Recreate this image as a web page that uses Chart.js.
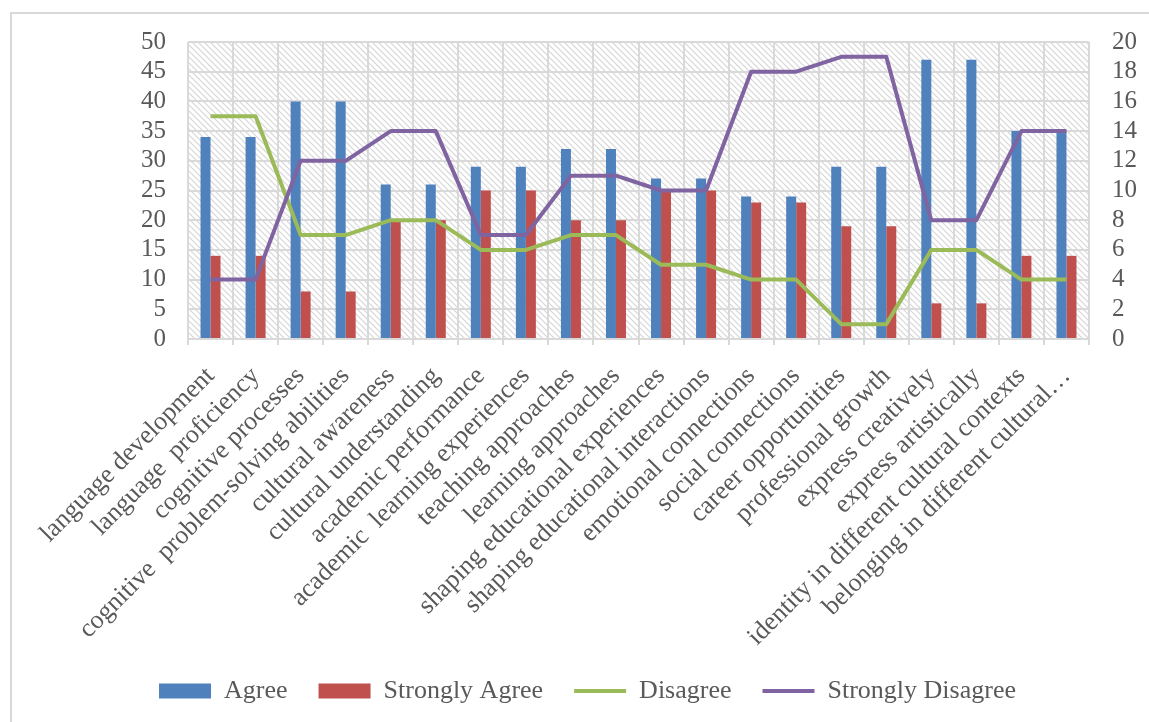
<!DOCTYPE html>
<html lang="en">
<head>
    <meta charset="UTF-8">
    <title>Agreement by Aspect</title>
    <style>
        html, body { margin: 0; padding: 0; background: #fff; }
        #wrap { width: 1149px; height: 722px; position: relative; }
    </style>
</head>
<body>
    <div id="wrap"><canvas id="mixedChart" width="1149" height="722"></canvas></div>

    <script src="https://cdn.jsdelivr.net/npm/chart.js"></script>
    <script>
        // categories and values
        const categories = [
            'language development', 'language  proficiency', 'cognitive processes',
            'cognitive  problem-solving abilities', 'cultural awareness', 'cultural understanding',
            'academic performance', 'academic  learning experiences', 'teaching approaches',
            'learning approaches', 'shaping educational experiences', 'shaping educational interactions',
            'emotional connections', 'social connections', 'career opportunities', 'professional growth',
            'express creatively', 'express artistically', 'identity in different cultural contexts',
            'belonging in different cultural\u2026'
        ];
        const agree = [34, 34, 40, 40, 26, 26, 29, 29, 32, 32, 27, 27, 24, 24, 29, 29, 47, 47, 35, 35];
        const stronglyAgree = [14, 14, 8, 8, 20, 20, 25, 25, 20, 20, 25, 25, 23, 23, 19, 19, 6, 6, 14, 14];
        const disagree = [15, 15, 7, 7, 8, 8, 6, 6, 7, 7, 5, 5, 4, 4, 1, 1, 6, 6, 4, 4];
        const stronglyDisagree = [4, 4, 12, 12, 14, 14, 7, 7, 11, 11, 10, 10, 18, 18, 19, 19, 8, 8, 14, 14];

        const FONT = "'Liberation Serif', serif";
        const TEXT = '#595959';
        const GRID = '#d9d9d9';

        // hatched plot background
        function makeHatch() {
            const c = document.createElement('canvas');
            c.width = 6; c.height = 6;
            const g = c.getContext('2d');
            g.strokeStyle = '#d6d6d6';
            g.lineWidth = 1.2;
            g.beginPath();
            g.moveTo(-1, -1); g.lineTo(7, 7);
            g.moveTo(-1, 5); g.lineTo(1, 7);
            g.moveTo(5, -1); g.lineTo(7, 1);
            g.stroke();
            return g.createPattern(c, 'repeat');
        }

        const backdrop = {
            id: 'backdrop',
            beforeDraw(chart) {
                const ctx = chart.ctx;
                const a = chart.chartArea;
                ctx.save();
                ctx.fillStyle = makeHatch();
                ctx.fillRect(a.left, a.top, a.right - a.left, a.bottom - a.top);
                // outer frame (top and left edges visible)
                ctx.strokeStyle = GRID;
                ctx.lineWidth = 2;
                ctx.beginPath();
                ctx.moveTo(11, chart.height);
                ctx.lineTo(11, 13);
                ctx.lineTo(chart.width, 13);
                ctx.stroke();
                ctx.restore();
            }
        };

        const ctx = document.getElementById('mixedChart').getContext('2d');
        new Chart(ctx, {
            type: 'bar',
            data: {
                labels: categories,
                datasets: [{
                    label: 'Agree',
                    data: agree,
                    backgroundColor: '#4f81bd',
                    pointStyle: 'rect',
                    order: 2
                }, {
                    label: 'Strongly Agree',
                    data: stronglyAgree,
                    backgroundColor: '#c0504d',
                    pointStyle: 'rect',
                    order: 2
                }, {
                    type: 'line',
                    label: 'Disagree',
                    data: disagree,
                    yAxisID: 'y1',
                    borderColor: '#9bbb59',
                    backgroundColor: '#9bbb59',
                    borderWidth: 4,
                    pointRadius: 0,
                    pointStyle: 'line',
                    borderJoinStyle: 'round',
                    order: 1
                }, {
                    type: 'line',
                    label: 'Strongly Disagree',
                    data: stronglyDisagree,
                    yAxisID: 'y1',
                    borderColor: '#8064a2',
                    backgroundColor: '#8064a2',
                    borderWidth: 4,
                    pointRadius: 0,
                    pointStyle: 'line',
                    borderJoinStyle: 'round',
                    order: 0
                }]
            },
            options: {
                responsive: false,
                animation: false,
                datasets: {
                    bar: { categoryPercentage: 0.444, barPercentage: 1.0 }
                },
                layout: { padding: { top: 42, left: 38, right: 12, bottom: 8 } },
                plugins: {
                    tooltip: { enabled: false },
                    legend: {
                        position: 'bottom',
                        labels: {
                            usePointStyle: true,
                            pointStyleWidth: 52,
                            boxHeight: 15,
                            padding: 31,
                            color: TEXT,
                            font: { family: FONT, size: 26 },
                            sort: (a, b) => a.datasetIndex - b.datasetIndex
                        }
                    }
                },
                scales: {
                    x: {
                        offset: true,
                        grid: { offset: true, color: GRID, lineWidth: 2, tickLength: 6, tickColor: GRID },
                        border: { color: GRID, width: 2 },
                        ticks: {
                            autoSkip: false,
                            minRotation: 45,
                            maxRotation: 45,
                            padding: 16,
                            color: TEXT,
                            font: { family: FONT, size: 26 }
                        },
                        afterFit: (scale) => { scale.height = 308; }
                    },
                    y: {
                        position: 'left',
                        min: 0,
                        max: 50,
                        ticks: { stepSize: 5, autoSkip: false, padding: 22, color: TEXT, font: { family: FONT, size: 25 } },
                        grid: { color: GRID, lineWidth: 2, drawTicks: false },
                        border: { display: false },
                        afterFit: (scale) => { scale.width = 150; }
                    },
                    y1: {
                        position: 'right',
                        min: 0,
                        max: 20,
                        ticks: { stepSize: 2, autoSkip: false, padding: 23, color: TEXT, font: { family: FONT, size: 25 } },
                        grid: { display: false, drawTicks: false },
                        border: { display: false },
                        afterFit: (scale) => { scale.width = 48; }
                    }
                }
            },
            plugins: [backdrop]
        });
    </script>
</body>
</html>
